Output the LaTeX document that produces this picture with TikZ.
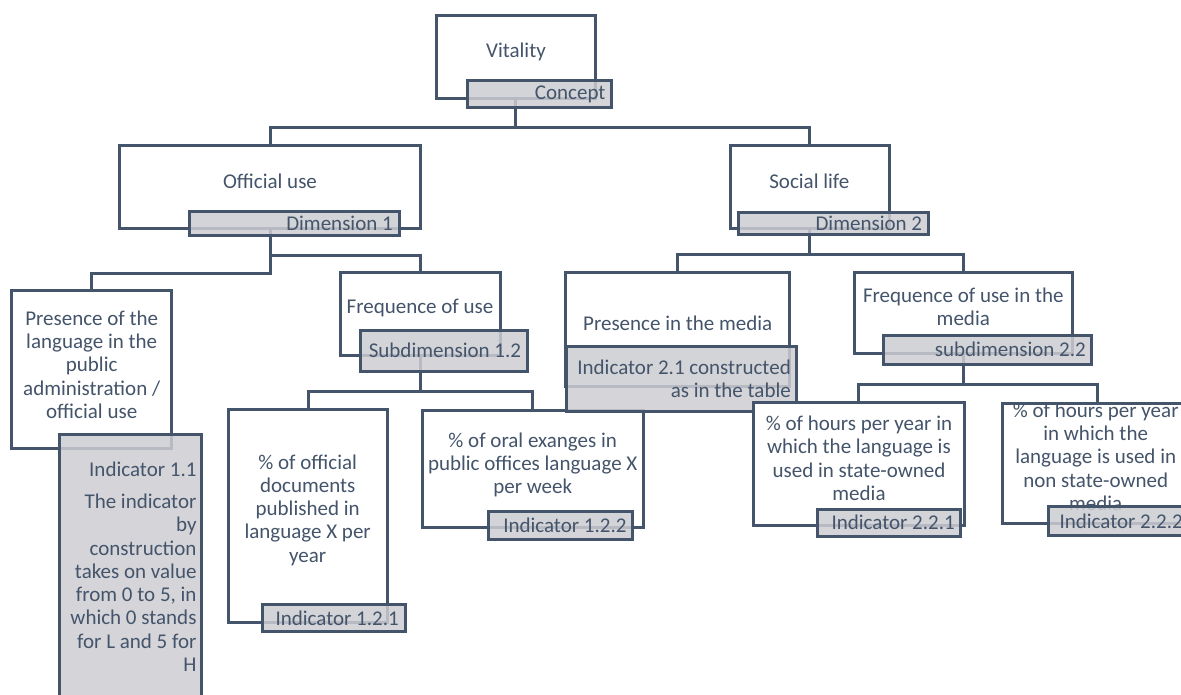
\documentclass[tikz,border=0pt]{standalone}
\usepackage{fontspec}
\setmainfont{Carlito}
\usetikzlibrary{backgrounds}
\definecolor{ln}{HTML}{44546A}
\definecolor{lblfill}{RGB}{204,205,210}
\begin{document}
\begin{tikzpicture}[x=1pt,y=-1pt,
  every node/.style={text=ln, font=\fontsize{21pt}{23.3pt}\selectfont},
  box/.style={draw=ln, line width=3pt, fill=white, inner sep=0pt, rectangle},
  lbl/.style={draw=ln, line width=3pt, fill=lblfill, fill opacity=0.85, draw opacity=1, inner sep=0pt, rectangle},
  txt/.style={inner sep=0pt, align=center},
  ltxt/.style={inner sep=0pt, align=right, anchor=east},
  conn/.style={draw=ln, line width=3pt}]
\useasboundingbox (0,0) rectangle (1181,694);
\clip (0,0) rectangle (1181,694);

% Concept
\node[box, minimum width=159.7pt, minimum height=82.3pt] (vit) at (515.85,56.85) {};
\node[txt] (tvit) at (516,51.7) {Vitality};
\node[lbl, minimum width=144pt, minimum height=27.3pt] (lconcept) at (539.7,93.65) {};
\node[ltxt] (tconcept) at (605.7,94) {Concept};

% Dimension 1
\node[box, minimum width=301.4pt, minimum height=82.6pt] (off) at (270,187) {};
\node[txt] (toff) at (270,181.7) {Official use};
\node[lbl, minimum width=210pt, minimum height=23.3pt] (ldim1) at (294,223.35) {};
\node[ltxt] (tdim1) at (393,223.3) {Dimension 1};

% Presence of the language
\node[box, minimum width=160pt, minimum height=157.6pt] (pres) at (91.7,369.5) {};
\node[txt] (tpres) at (91.7,364.6) {Presence of the\\language in the\\public\\administration /\\official use};
\node[lbl, minimum width=142.7pt, minimum height=285.7pt] (lind11) at (130.35,577.15) {};
\node[txt, align=right, anchor=north east] (tind11) at (196.7,462) {Indicator 1.1\\[8.4pt]The indicator\\by\\construction\\takes on value\\from 0 to 5, in\\which 0 stands\\for L and 5 for\\H};

% Frequence of use
\node[box, minimum width=159.3pt, minimum height=83.4pt] (freq) at (420.35,314) {};
\node[txt] (tfreq) at (420,308.3) {Frequence of use};
\node[lbl, minimum width=166.6pt, minimum height=41pt] (lsub12) at (444,350.5) {};
\node[ltxt] (tsub12) at (521.3,350) {Subdimension 1.2};

% % of official documents
\node[box, minimum width=159.4pt, minimum height=213.3pt] (offdoc) at (308,515.65) {};
\node[txt] (toffdoc) at (307.7,510) {\% of official\\documents\\published in\\language X per\\year};
\node[lbl, minimum width=142.7pt, minimum height=27.4pt] (lind121) at (333.65,618) {};
\node[ltxt] (tind121) at (399,618.3) {Indicator 1.2.1};

% % of oral exanges
\node[box, minimum width=221pt, minimum height=117.7pt] (oral) at (532.8,468.85) {};
\node[txt] (toral) at (532.7,465) {\% of oral exanges in\\public offices language X\\per week};
\node[lbl, minimum width=144pt, minimum height=28pt] (lind122) at (560.3,525) {};
\node[ltxt] (tind122) at (626.7,525) {Indicator 1.2.2};

% Dimension 2
\node[box, minimum width=159pt, minimum height=82.6pt] (soc) at (809.5,187) {};
\node[txt] (tsoc) at (809.3,181.7) {Social life};
\node[lbl, minimum width=190pt, minimum height=21.5pt] (ldim2) at (833.3,223.65) {};
\node[ltxt] (tdim2) at (922.3,223.3) {Dimension 2};

% Presence in the media
\node[box, minimum width=223.3pt, minimum height=113.7pt] (presmed) at (677.35,329.15) {};
\node[txt] (tpresmed) at (677.7,323.3) {Presence in the media};
\node[lbl, minimum width=230pt, minimum height=64.3pt] (lind21) at (681.7,378.85) {};
\node[ltxt] (tind21) at (791,378.7) {Indicator 2.1 constructed\\as in the table};

% Frequence of use in the media
\node[box, minimum width=218pt, minimum height=81pt] (freqmed) at (963.3,312.8) {};
\node[txt] (tfreqmed) at (963.3,307) {Frequence of use in the\\media};
\node[lbl, minimum width=208.4pt, minimum height=29pt] (lsub22) at (987.5,349.5) {};
\node[ltxt] (tsub22) at (1086,349.3) {subdimension 2.2};

% % of hours state-owned
\node[box, minimum width=211pt, minimum height=122.3pt] (hours1) at (858.8,463.85) {};
\node[txt] (thours1) at (859,458.3) {\% of hours per year in\\which the language is\\used in state-owned\\media};
\node[lbl, minimum width=143.4pt, minimum height=27.4pt] (lind221) at (889,523) {};
\node[ltxt] (tind221) at (955,522.7) {Indicator 2.2.1};

% % of hours non state-owned
\node[box, minimum width=189.7pt, minimum height=120.3pt] (hours2) at (1097.15,463.15) {};
\node[txt] (thours2) at (1095.7,456.7) {\% of hours per year\\in which the\\language is used in\\non state-owned\\media};
\node[lbl, minimum width=140.7pt, minimum height=28.3pt] (lind222) at (1118.65,520.85) {};
\node[ltxt] (tind222) at (1183,521) {Indicator 2.2.2};

% Connectors
\begin{scope}[on background layer]
\draw[conn] (vit.south) -- ++(0,28) -| (off.north);
\draw[conn] (vit.south) ++(0,28) -| (soc.north);
\draw[conn] (off.south) -- ++(0,44) -| (pres.north);
\draw[conn] (off.south) ++(0,25.7) -| (freq.north);
\draw[conn] (freq.south) -- ++(0,34.3) -| (offdoc.north);
\draw[conn] (freq.south) ++(0,34.3) -| (oral.north);
\draw[conn] (soc.south) -- ++(0,24.2) -| (presmed.north);
\draw[conn] (soc.south) ++(0,24.2) -| (freqmed.north);
\draw[conn] (freqmed.south) -- ++(0,30) -| (hours1.north);
\draw[conn] (freqmed.south) ++(0,30) -| (hours2.north);
\end{scope}
\end{tikzpicture}
\end{document}
